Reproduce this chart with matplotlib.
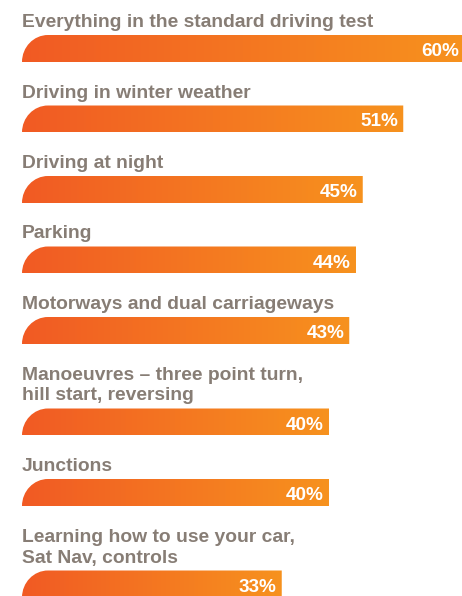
#!/usr/bin/env python3

import matplotlib
matplotlib.use('Agg')
import matplotlib.pyplot as plt
import numpy as np
from matplotlib.path import Path
from matplotlib.patches import PathPatch
from matplotlib.colors import to_rgb

# survey answers, top to bottom
labels = [
    'Everything in the standard driving test',
    'Driving in winter weather',
    'Driving at night',
    'Parking',
    'Motorways and dual carriageways',
    'Manoeuvres \u2013 three point turn,\nhill start, reversing',
    'Junctions',
    'Learning how to use your car,\nSat Nav, controls',
]
values = [60, 51, 45, 44, 43, 40, 40, 33]
value_text = ['%d%%' % v for v in values]

TEXT_GREY = '#877d75'
GRAD_LEFT = '#f15a24'
GRAD_RIGHT = '#f7921e'

W, H = 462, 596
PX_PER_PCT = 6.75          # horizontal scale, pixels per percent
X_ORIGIN_PX = 59.0         # pixel where 0% sits
BAR_START = (22 - X_ORIGIN_PX) / PX_PER_PCT
BAR_H = 27                 # bar height in pixels (y axis is in pixels)
ROW_STEP = 70.5
LINE_STEP = 21
CORNER_PX = 26

fig = plt.figure(figsize=(W / 100, H / 100), dpi=100)
ax = fig.add_axes([0, 0, 1, 1])
ax.set_axis_off()

xlim = (-X_ORIGIN_PX / PX_PER_PCT, (W - X_ORIGIN_PX) / PX_PER_PCT)

# work out where each bar's top edge goes; two-line labels push rows down
tops = []
top = 35
for i, lab in enumerate(labels):
    if i > 0:
        top += ROW_STEP + LINE_STEP * (lab.count('\n'))
    tops.append(top)
tops = np.array(tops)
centers = tops + BAR_H / 2

bars = ax.barh(centers, np.array(values) - BAR_START, left=BAR_START,
               height=BAR_H, color='none', edgecolor='none')

c0 = np.array(to_rgb(GRAD_LEFT))
c1 = np.array(to_rgb(GRAD_RIGHT))
grad = np.linspace(0, 1, 256)[:, None]
grad_img = (c0 + (c1 - c0) * grad)[None, :, :]

rx = CORNER_PX / PX_PER_PCT
k = 0.5523
for bar in bars:
    x0, y0 = bar.get_x(), bar.get_y()
    x1, y1 = x0 + bar.get_width(), y0 + bar.get_height()
    # y axis is inverted: y0 is the top edge, y1 the bottom edge
    verts = [(x0, y1),
             (x0, y1 - k * BAR_H), (x0 + rx - k * rx, y0), (x0 + rx, y0),
             (x1, y0), (x1, y1), (x0, y1)]
    codes = [Path.MOVETO, Path.CURVE4, Path.CURVE4, Path.CURVE4,
             Path.LINETO, Path.LINETO, Path.CLOSEPOLY]
    clip = PathPatch(Path(verts, codes), facecolor='none', edgecolor='none',
                     transform=ax.transData)
    ax.add_patch(clip)
    im = ax.imshow(grad_img, extent=(x0, x1, y1, y0), aspect='auto',
                   interpolation='bilinear', zorder=2)
    im.set_clip_path(clip)

font = ['Liberation Sans', 'DejaVu Sans']

for top, lab in zip(tops, labels):
    lines = lab.split('\n')
    n = len(lines)
    for j, line in enumerate(lines):
        ax.text(BAR_START, top - 8 - LINE_STEP * (n - 1 - j), line,
                ha='left', va='baseline', fontsize=13.9, fontweight='bold',
                color=TEXT_GREY, family=font)

pad = 5 / PX_PER_PCT
for top, v, txt in zip(tops, values, value_text):
    ax.text(v - pad, top + 21, txt, ha='right', va='baseline',
            fontsize=13.6, fontweight='bold', color='white', family=font,
            zorder=3)

ax.set_xlim(*xlim)
ax.set_ylim(H, 0)

fig.savefig('out.png', dpi=100)
